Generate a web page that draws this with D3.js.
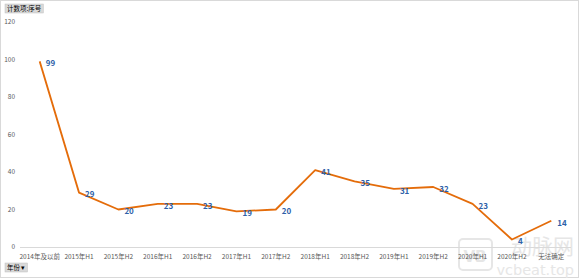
<!DOCTYPE html>
<html>
<head>
<meta charset="utf-8">
<script src="https://cdnjs.cloudflare.com/ajax/libs/d3/7.8.5/d3.min.js"></script>
<style>
  body { margin: 0; background: #fff; }
  svg { display: block; }
</style>
</head>
<body>
<div class="chart"></div>
<script>
var w = 580,
    h = 279;

var categories = ["2014年及以前", "2015年H1", "2015年H2", "2016年H1", "2016年H2", "2017年H1", "2017年H2",
                  "2018年H1", "2018年H2", "2019年H1", "2019年H2", "2020年H1", "2020年H2", "无法确定"];
var counts = [99, 29, 20, 23, 23, 19, 20, 41, 35, 31, 32, 23, 4, 14];
var yTicks = [0, 20, 40, 60, 80, 100, 120];

var font = "'Microsoft YaHei', 'Noto Sans CJK SC', sans-serif";

var svg = d3.select(".chart").append("svg")
  .attr("width", w)
  .attr("height", h);

// outer frame
svg.append("rect")
  .attr("x", 0.5).attr("y", 0.5)
  .attr("width", w - 2).attr("height", h - 2)
  .attr("fill", "#fff")
  .attr("stroke", "#d9d9d9");

var x = d3.scaleBand()
  .domain(categories)
  .range([20, 571]);

var y = d3.scaleLinear()
  .domain([0, 120])
  .range([247, 22]);

// watermark (drawn first, sits behind the chart)
var wm = svg.append("g").attr("fill", "#e6e6e6");
wm.append("rect")
  .attr("x", 459).attr("y", 239)
  .attr("width", 33).attr("height", 31)
  .attr("rx", 4)
  .attr("fill", "none")
  .attr("stroke", "#e6e6e6")
  .attr("stroke-width", 2);
wm.append("text")
  .attr("x", 475).attr("y", 262)
  .attr("text-anchor", "middle")
  .attr("font-family", "'DejaVu Sans', sans-serif")
  .attr("font-weight", "bold")
  .attr("font-size", 15)
  .text("VB");
wm.append("text")
  .attr("x", 574).attr("y", 254)
  .attr("text-anchor", "end")
  .attr("font-family", font)
  .attr("font-size", 21)
  .text("动脉网");
wm.append("text")
  .attr("x", 574).attr("y", 275)
  .attr("text-anchor", "end")
  .attr("font-family", "'DejaVu Sans', sans-serif")
  .attr("font-size", 14.5)
  .text("vcbeat.top");

// y tick labels
svg.selectAll(".ytick")
  .data(yTicks)
  .enter()
  .append("text")
  .attr("x", 15)
  .attr("y", function(d) { return y(d); })
  .attr("dy", "0.35em")
  .attr("text-anchor", "end")
  .attr("font-family", font)
  .attr("font-size", 6.5)
  .attr("fill", "#595959")
  .text(function(d) { return d; });

// x axis line
svg.append("line")
  .attr("x1", 20).attr("x2", 571)
  .attr("y1", y(0) + 0.5).attr("y2", y(0) + 0.5)
  .attr("stroke", "#d9d9d9");

// category labels
svg.selectAll(".xtick")
  .data(categories)
  .enter()
  .append("text")
  .attr("x", function(d) { return x(d) + x.bandwidth() / 2; })
  .attr("y", 259)
  .attr("text-anchor", "middle")
  .attr("font-family", font)
  .attr("font-size", 6.5)
  .attr("fill", "#595959")
  .text(function(d) { return d; });

// line
var line = d3.line()
  .x(function(d, i) { return x(categories[i]) + x.bandwidth() / 2; })
  .y(function(d) { return y(d); });

svg.append("path")
  .datum(counts)
  .attr("d", line)
  .attr("fill", "none")
  .attr("stroke", "#e46c0a")
  .attr("stroke-width", 1.8)
  .attr("stroke-linejoin", "round");

// data labels
svg.selectAll(".lbl")
  .data(counts)
  .enter()
  .append("text")
  .attr("x", function(d, i) { return x(categories[i]) + x.bandwidth() / 2 + 6; })
  .attr("y", function(d) { return y(d) + 2; })
  .attr("dy", "0.35em")
  .attr("font-family", font)
  .attr("font-size", 8)
  .attr("font-weight", "bold")
  .attr("fill", "#2e5fa8")
  .text(function(d) { return d; });

// field buttons
function button(bx, by, label) {
  var g = svg.append("g");
  var t = g.append("text")
    .attr("x", bx + 2).attr("y", by + 4.5)
    .attr("dy", "0.35em")
    .attr("font-family", font)
    .attr("font-size", 6.5)
    .attr("fill", "#000")
    .text(label);
  var tw = t.node().getComputedTextLength();
  g.insert("rect", "text")
    .attr("x", bx).attr("y", by)
    .attr("width", tw + 4).attr("height", 9)
    .attr("fill", "#d9d9d9")
    .attr("stroke", "#bfbfbf")
    .attr("stroke-width", 0.5);
}
button(5, 4, "计数项:序号");
button(5, 263, "年份 ▾");
</script>
</body>
</html>
